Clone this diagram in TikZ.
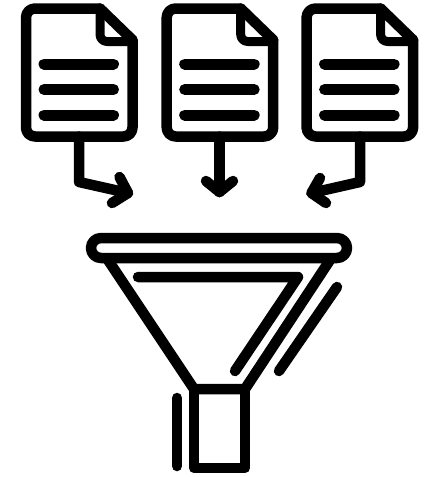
\documentclass[tikz,border=0pt]{standalone}
\begin{document}
\begin{tikzpicture}[x=1pt,y=-1pt,
  ink/.style={draw=black,line width=10.5pt,line join=round,line cap=round},
  textline/.style={draw=black,line width=11pt,line cap=round},
  doc/.pic={
    \draw[ink,rounded corners=9pt] (100,8.5) -- (26,8.5) -- (26,136.5) -- (132.5,136.5) -- (132.5,40);
    \draw[ink] (132.5,40) -- (100,8.5);
    \draw[ink,line width=9pt,rounded corners=7pt] (100,8.5) -- (100,41.5) -- (132.5,41.5);
    \draw[textline] (44,64) -- (113.5,64);
    \draw[textline] (44,89.5) -- (113.5,89.5);
    \draw[textline] (44,115) -- (113.5,115);
  }]
\useasboundingbox (0,0) rectangle (431,477);
\fill[white] (0,0) rectangle (431,477);
% documents
\pic at (0,0) {doc};
\pic at (140.7,0) {doc};
\pic at (280.6,0) {doc};
% arrow anchors
\coordinate (s1) at (79,136.5);
\coordinate (b1) at (79,182);
\coordinate (t1) at (128,193);
\coordinate (s2) at (219.5,136.5);
\coordinate (t2) at (219.5,192);
\coordinate (s3) at (360,136.5);
\coordinate (b3) at (360,182);
\coordinate (t3) at (311.5,193);
% arrows
\draw[ink] (s1) -- (b1) -- (t1);
\draw[ink] (119.5,177) -- (t1) -- (112,203);
\draw[ink] (s2) -- (t2);
\draw[ink] (206,181) -- (t2) -- (233,181);
\draw[ink] (s3) -- (b3) -- (t3);
\draw[ink] (320,178) -- (t3) -- (326,203);
% funnel
\draw[ink,rounded corners=10pt] (91,238) rectangle (347,258);
\draw[ink] (108,260) -- (194,389) -- (245,389) -- (330,260);
\draw[ink] (194,389) -- (194,468) -- (245,468) -- (245,389);
\draw[ink] (138,277) -- (298,277) -- (235,371);
\draw[ink] (337,287) -- (279,371);
\draw[ink] (177,398) -- (177,466);
\end{tikzpicture}
\end{document}
